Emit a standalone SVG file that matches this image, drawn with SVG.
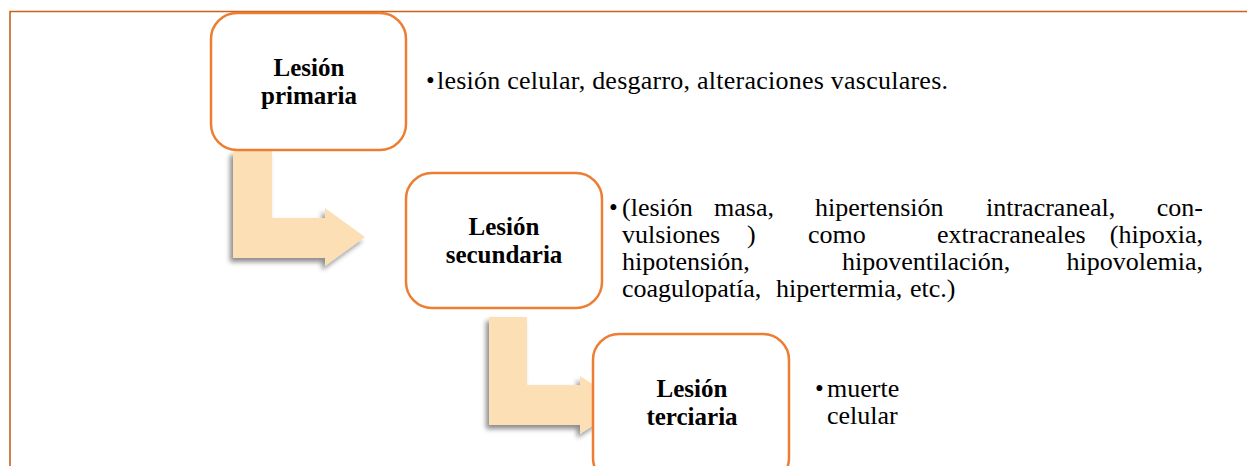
<svg xmlns="http://www.w3.org/2000/svg" width="1247" height="466" viewBox="0 0 1247 466">
<style>
.box{fill:#ffffff;stroke:#ED7D31;stroke-width:2.5}
.lbl{font-family:"Liberation Serif","Times New Roman",serif;font-weight:bold;font-size:25px;fill:#000;text-anchor:middle}
.txt{font-family:"Liberation Serif","Times New Roman",serif;font-size:26px;fill:#000}
.bul{font-family:"Liberation Serif","Times New Roman",serif;font-size:25px;fill:#000}
.arrow{fill:#FDDFB6;filter:url(#shadow)}
</style>
<defs>
<filter id="shadow" x="-30%" y="-30%" width="160%" height="160%">
<feDropShadow dx="-3" dy="4" stdDeviation="2.5" flood-color="#000000" flood-opacity="0.45"/>
</filter>
</defs>
<rect x="0" y="0" width="1247" height="466" fill="#ffffff"/>
<path d="M10,466 V11.5 H1247" fill="none" stroke="#C8621E" stroke-width="1.6"/>
<g id="connectors">
<path class="arrow" d="M233,151 H272 V218 H325 V208 L365,237 L325,266 V258 H233 Z"/>
<path class="arrow" d="M489,317 H527 V385 H580 V376 L625,405 L580,434 V425 H489 Z"/>
</g>
<g id="node-primaria">
<rect class="box" x="211" y="13" width="195" height="137" rx="26"/>
<text class="lbl"><tspan x="309" y="76">Lesión</tspan><tspan x="309" y="104">primaria</tspan></text>
</g>
<g id="text-primaria">
<text class="bul" x="426" y="89">•</text>
<text class="txt" x="437" y="89" textLength="511" lengthAdjust="spacing">lesión celular, desgarro, alteraciones vasculares.</text>
</g>
<g id="node-secundaria">
<rect class="box" x="406" y="173" width="196" height="135" rx="26"/>
<text class="lbl"><tspan x="504" y="235">Lesión</tspan><tspan x="504" y="263">secundaria</tspan></text>
</g>
<g id="text-secundaria">
<text class="bul" x="609" y="216">•</text>
<text class="txt"><tspan x="622" y="216">(lesión</tspan><tspan x="714">masa,</tspan><tspan x="815">hipertensión</tspan><tspan x="986">intracraneal,</tspan><tspan x="1203" text-anchor="end">con-</tspan><tspan x="622" y="243">vulsiones</tspan><tspan x="747">)</tspan><tspan x="808">como</tspan><tspan x="937">extracraneales</tspan><tspan x="1203" text-anchor="end">(hipoxia,</tspan><tspan x="622" y="270">hipotensión,</tspan><tspan x="842">hipoventilación,</tspan><tspan x="1203" text-anchor="end">hipovolemia,</tspan><tspan x="622" y="297">coagulopatía,</tspan><tspan x="776">hipertermia,</tspan><tspan x="910">etc.)</tspan></text>
</g>
<g id="node-terciaria">
<rect class="box" x="593" y="334" width="196" height="150" rx="26"/>
<text class="lbl"><tspan x="692" y="397">Lesión</tspan><tspan x="692" y="425">terciaria</tspan></text>
</g>
<g id="text-terciaria">
<text class="bul" x="815" y="397">•</text>
<text class="txt"><tspan x="827" y="397">muerte</tspan><tspan x="827" y="424">celular</tspan></text>
</g>
</svg>
